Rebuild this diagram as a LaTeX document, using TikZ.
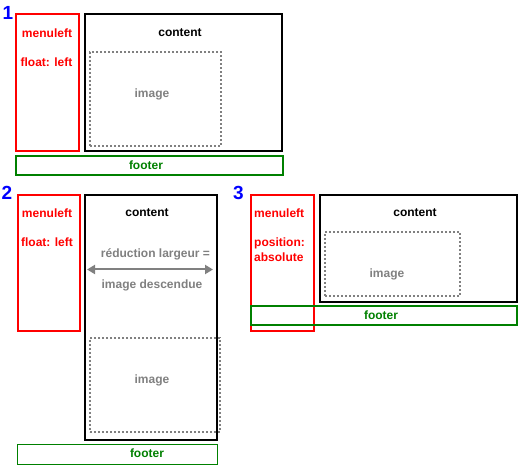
\documentclass[tikz,border=0pt]{standalone}
\usepackage{fontspec}
\setmainfont{Liberation Sans}
\usetikzlibrary{arrows.meta}
\definecolor{cred}{HTML}{FF0000}
\definecolor{cgreen}{HTML}{008000}
\definecolor{cgray}{HTML}{808080}
\definecolor{cblue}{HTML}{0000FF}
\tikzset{
  box/.style={draw, line width=2pt, inner sep=0pt, anchor=north west},
  menubox/.style={box, draw=cred},
  contbox/.style={box, draw=black},
  imgbox/.style={box, draw=cgray, dash pattern=on 2pt off 2pt},
  footbox/.style={box, draw=cgreen},
  lbl/.style={font=\bfseries\fontsize{12}{14}\selectfont, inner sep=0pt},
  redt/.style={lbl, text=cred},
  blackt/.style={lbl, text=black},
  grayt/.style={lbl, text=cgray},
  greent/.style={lbl, text=cgreen},
  numt/.style={font=\bfseries\fontsize{19}{20}\selectfont, text=cblue, inner sep=0pt},
  widearrow/.style={draw=cgray, line width=2pt, {Triangle[length=8pt,width=9pt]}-{Triangle[length=8pt,width=9pt]}}
}
\begin{document}
\begin{tikzpicture}[x=1pt,y=-1pt]
\useasboundingbox (0,0) rectangle (523,468);
% ---------- 1 ----------
\node[numt] (n1) at (8,13) {1};
\node[menubox, minimum width=63pt, minimum height=137pt] (m1) at (15,13) {};
\node[contbox, minimum width=197pt, minimum height=137pt] (c1) at (84,13) {};
\node[imgbox, minimum width=131pt, minimum height=94pt] (i1) at (89,51) {};
\node[footbox, minimum width=267pt, minimum height=19pt] (f1) at (15,155) {};
\node[redt] (m1a) at (47,33) {menuleft};
\node[redt] (m1b) at (46.5,62) {float: left};
\node[blackt] (c1t) at (180,33) {content};
\node[grayt] (i1t) at (152,94) {image};
\node[greent] (f1t) at (146,165) {footer};
% ---------- 2 ----------
\node[numt] (n2) at (7,193) {2};
\node[menubox, minimum width=62pt, minimum height=136pt] (m2) at (17,194) {};
\node[contbox, minimum width=132pt, minimum height=245pt] (c2) at (84,194) {};
\node[imgbox, minimum width=130pt, minimum height=94pt] (i2) at (89,337) {};
\node[box, draw=cgreen, line width=1pt, minimum width=200pt, minimum height=20pt] (f2) at (16.5,443.5) {};
\node[redt] (m2a) at (47,213) {menuleft};
\node[redt] (m2b) at (47,242.5) {float: left};
\node[blackt] (c2t) at (147,213) {content};
\node[grayt] (r2a) at (155.5,254.5) {réduction largeur =};
\node[grayt] (r2b) at (152,285) {image descendue};
\coordinate (a2l) at (87,269.5);
\coordinate (a2r) at (213,269.5);
\draw[widearrow] (a2l) -- (a2r);
\node[grayt] (i2t) at (152,380) {image};
\node[greent] (f2t) at (147,453) {footer};
% ---------- 3 ----------
\node[numt] (n3) at (238.5,193) {3};
\node[menubox, minimum width=63pt, minimum height=136pt] (m3) at (250,194) {};
\node[contbox, minimum width=197pt, minimum height=107pt] (c3) at (319,194) {};
\node[imgbox, minimum width=135pt, minimum height=64pt] (i3) at (324,231) {};
\node[footbox, minimum width=266pt, minimum height=19pt] (f3) at (250,305) {};
\node[redt, anchor=west] (m3a) at (254,213) {menuleft};
\node[redt, anchor=west] (m3b) at (254,243) {position:};
\node[redt, anchor=west] (m3c) at (254,257.5) {absolute};
\node[blackt] (c3t) at (415,213) {content};
\node[grayt] (i3t) at (387,274) {image};
\node[greent] (f3t) at (381,315) {footer};
\end{tikzpicture}
\end{document}
